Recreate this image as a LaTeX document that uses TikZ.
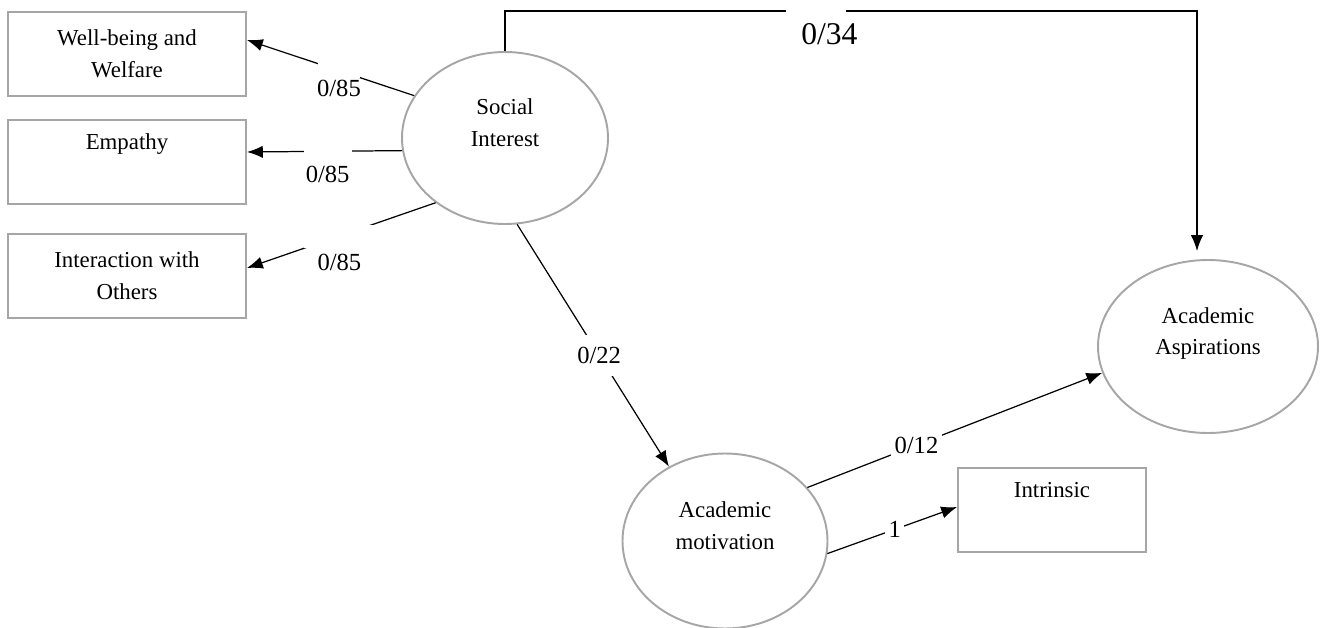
\documentclass[tikz,border=0pt]{standalone}
\usepackage{fontspec}
\setmainfont{Liberation Serif}
\usetikzlibrary{shapes.geometric, arrows.meta}
\definecolor{rim}{HTML}{a6a6a6}
\tikzstyle{indicator}=[rectangle,
                            draw=rim,
                            line width=1.1pt,
                            align=center,
                            minimum width=4.76cm,
                            minimum height=1.68cm,
                            font=\fontsize{13}{18}\selectfont
                           ]
\tikzstyle{factor}=[ellipse,
                         draw=rim,
                         line width=1.1pt,
                         align=center,
                         font=\fontsize{13}{18}\selectfont
                        ]
\tikzstyle{gap}=[rectangle, fill=white, inner sep=0pt]
\tikzstyle{weight}=[fill=white, inner sep=2pt, font=\fontsize{14}{16}\selectfont]
\tikzstyle{every label}=[font=\fontsize{14}{16}\selectfont]

\begin{document}
\begin{tikzpicture}[line width=0.7pt, >={Latex[length=9pt, width=7pt]}]
  \useasboundingbox (0cm, 0cm) rectangle (26.4cm, -12.56cm);

  \node at (2.54cm, -1.08cm) (wb) [indicator] {Well-being and\\Welfare};
  \node at (2.54cm, -3.24cm) (emp) [indicator] {Empathy\\\strut};
  \node at (2.54cm, -5.52cm) (iwo) [indicator] {Interaction with\\Others};
  \node at (21.04cm, -10.2cm) (intr) [indicator, minimum width=3.76cm] {Intrinsic\\\strut};

  \node at (10.1cm, -2.76cm) (si) [factor, minimum width=4.12cm, minimum height=3.44cm] {Social\\Interest\\[-6pt]\strut};
  \node at (14.5cm, -10.82cm) (am) [factor, minimum width=4.1cm, minimum height=3.5cm] {Academic\\motivation\\[-6pt]\strut};
  \node at (24.16cm, -6.93cm) (asp) [factor, minimum width=4.4cm, minimum height=3.46cm] {Academic\\Aspirations\\[-6pt]\strut};

  \draw[->] (si.155) -- node (g1) [gap, pos=0.45, minimum width=0.84cm, minimum height=0.3cm, label={[label distance=-0.1cm]below:0/85}] {} ([yshift=0.28cm]wb.east);
  \draw[->] (si.187) -- node (g2) [gap, pos=0.48, minimum width=0.96cm, minimum height=0.3cm, label={below:0/85}] {} ([yshift=0.2cm]emp.east);
  \draw[->] (si.223) -- node (g3) [gap, pos=0.51, minimum width=1.4cm, minimum height=0.46cm, label={below:0/85}] {} ([yshift=0.16cm]iwo.east);

  \draw[->] (si.north) -- ++(0cm, 0.8cm) -| node (g4) [gap, pos=0.225, minimum width=1.2cm, minimum height=0.2cm, label={[font=\fontsize{18}{20}\selectfont, xshift=0.26cm]below:0/34}] {} ([xshift=-0.22cm, yshift=0.16cm]asp.north);

  \draw[->] (si.278) -- node (w1) [weight, pos=0.54, inner ysep=7pt] {0/22} (am.127);
  \draw[->] (am.33) -- node (w2) [weight, pos=0.37] {0/12} (asp.194);
  \draw[->] (am.-7) -- node (w3) [weight, pos=0.52] {1} ([yshift=0.06cm]intr.west);
\end{tikzpicture}
\end{document}
